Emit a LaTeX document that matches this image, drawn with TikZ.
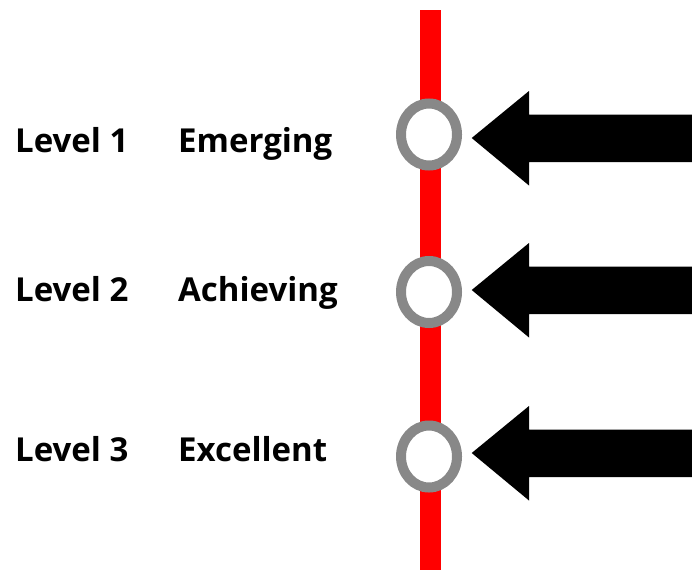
\documentclass[tikz,border=0pt]{standalone}
\usepackage{fontspec}
\setmainfont{Open Sans}
\usetikzlibrary{shapes.geometric}
\definecolor{ringgray}{HTML}{888888}
\definecolor{railred}{HTML}{FF0000}
\begin{document}
\begin{tikzpicture}[x=1pt,y=-1pt,
  lbl/.style={anchor=base west,inner sep=0pt,font=\fontsize{33}{40}\selectfont\bfseries},
  ring/.style={draw=ringgray,line width=10pt,fill=white,ellipse,minimum width=56pt,minimum height=62pt,inner sep=0pt},
  bigarrow/.style={fill=black}]
\useasboundingbox (0,0) rectangle (692,570);
\fill[railred] (420,10) rectangle (441,570);
% rings
\node[ring] (c1) at (429,134.5) {};
\node[ring] (c2) at (429,292) {};
\node[ring] (c3) at (429,456.5) {};
% arrow tips
\coordinate (t1) at (471.7,138);
\coordinate (t2) at (471.7,290);
\coordinate (t3) at (471.7,453);
\foreach \t in {t1,t2,t3}{
  \fill[bigarrow] (\t) -- ++(57.3,-47) -- ++(0,23.5) -- ++(163,0) -- ++(0,47.5)
    -- ++(-163,0) -- ++(0,23.5) -- cycle;
}
% labels
\node[lbl] (l1) at (15,152) {Level 1};
\node[lbl] (n1) at (178,152) {Emerging};
\node[lbl] (l2) at (15,301) {Level 2};
\node[lbl] (n2) at (178,301) {Achieving};
\node[lbl] (l3) at (15,461) {Level 3};
\node[lbl] (n3) at (178,461) {Excellent};
\end{tikzpicture}
\end{document}
